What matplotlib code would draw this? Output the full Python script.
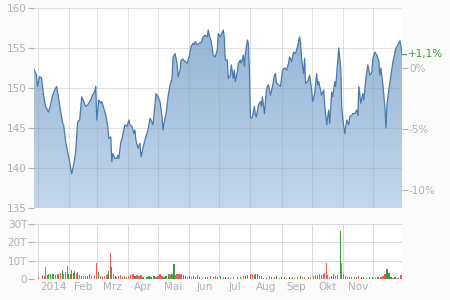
import numpy as np
import matplotlib
matplotlib.use("Agg")
import matplotlib.pyplot as plt
from matplotlib.colors import LinearSegmentedColormap
from matplotlib.patches import PathPatch

# ---- data (day offsets from 2014-01-01) ----
price_days = [-4, -1, 0, 2, 4, 6, 8, 10, 11, 13, 15, 17, 19, 20, 22, 25, 26, 28, 30, 32,
              34, 36, 38, 40, 42, 44, 46, 48, 50, 53, 55, 57, 58, 59, 61, 63, 64, 66, 68, 70,
              71, 73, 74, 75, 77, 79, 80, 81, 83, 84, 87, 89, 91, 92, 94, 96, 97, 98, 100, 102,
              103, 105, 107, 110, 112, 113, 115, 116, 118, 120, 122, 124, 125, 126, 128, 130, 132, 134, 135, 137,
              139, 140, 142, 143, 145, 147, 149, 151, 153, 155, 156, 157, 159, 161, 163, 165, 167, 169, 170, 171,
              173, 175, 177, 179, 180, 182, 185, 186, 187, 189, 190, 192, 193, 195, 196, 197, 199, 200, 202, 203,
              205, 206, 207, 209, 210, 211, 212, 213, 214, 216, 217, 218, 220, 222, 223, 224, 226, 228, 229, 230,
              232, 234, 236, 237, 238, 240, 242, 244, 246, 248, 250, 251, 253, 255, 257, 259, 261, 262, 263, 265,
              266, 267, 269, 271, 273, 274, 276, 278, 279, 280, 283, 285, 286, 288, 290, 291, 293, 294, 296, 297,
              299, 300, 302, 303, 304, 306, 308, 310, 311, 313, 314, 316, 318, 319, 320, 322, 324, 325, 327, 329,
              331, 333, 334, 336, 338, 340, 341, 342, 344, 346, 347, 348, 350, 352, 354, 356, 357, 359, 361, 362, 363]
prices = [152.5, 151.6, 150.2, 151.4, 151.3, 149.1, 147.7, 147.25, 147.0, 147.9, 149.1, 149.75, 150.2, 149.5, 147.9, 145.6, 145.4, 143.3, 142.0, 140.8,
          139.25, 140.4, 142.0, 145.8, 146.0, 148.9, 148.3, 147.7, 147.9, 148.5, 149.2, 149.5, 150.2, 146.0, 148.5, 148.1, 148.3, 147.5, 146.6, 145.2,
          143.7, 143.9, 140.8, 141.8, 141.2, 141.2, 141.6, 141.2, 143.3, 143.6, 145.4, 145.2, 146.0, 145.4, 145.2, 144.3, 144.75, 143.5, 142.5, 143.1,
          141.4, 142.5, 143.5, 144.75, 146.2, 146.0, 145.4, 146.6, 149.3, 148.9, 148.3, 146.4, 144.75, 145.6, 146.8, 148.9, 150.4, 151.2, 153.9, 154.3,
          153.1, 151.4, 152.25, 153.5, 153.6, 153.3, 153.1, 153.9, 155.2, 155.6, 155.4, 155.8, 155.4, 155.6, 155.7, 156.4, 156.6, 156.4, 157.25, 156.6,
          155.8, 154.1, 153.9, 154.75, 156.8, 156.4, 157.25, 156.4, 153.5, 153.5, 151.2, 151.6, 152.9, 151.2, 152.25, 150.8, 152.0, 153.1, 153.5, 153.1,
          154.1, 152.7, 154.3, 156.0, 155.6, 152.25, 146.4, 146.2, 146.4, 147.7, 146.6, 146.4, 147.9, 148.3, 147.7, 148.9, 146.8, 149.75, 150.2, 150.4,
          149.1, 150.2, 151.6, 151.8, 150.6, 150.4, 150.2, 152.25, 152.5, 152.25, 153.1, 153.9, 153.3, 154.5, 154.3, 155.2, 156.4, 155.6, 153.7, 151.8,
          153.7, 150.6, 150.8, 151.6, 149.75, 148.3, 149.3, 151.8, 150.4, 150.8, 149.1, 149.75, 147.9, 145.4, 147.25, 145.6, 149.5, 148.9, 150.8, 150.2,
          153.3, 155.0, 152.5, 147.5, 146.2, 144.3, 146.0, 145.4, 146.4, 146.6, 146.8, 146.8, 147.25, 146.6, 150.2, 148.1, 149.3, 148.5, 151.2, 152.9,
          151.6, 152.0, 153.7, 154.5, 154.1, 153.3, 151.6, 152.5, 150.4, 147.5, 145.0, 147.9, 149.9, 151.6, 153.3, 154.5, 155.0, 155.4, 155.9, 155.2, 154.2]

vol_days = [1, 5, 7, 8, 10, 11, 13, 15, 16, 18, 20, 21, 23, 25, 26, 28, 30, 31, 33, 34,
            36, 37, 39, 40, 42, 44, 46, 48, 50, 52, 54, 57, 59, 61, 63, 65, 67, 69, 70, 71,
            73, 74, 76, 78, 79, 81, 83, 85, 87, 89, 91, 93, 95, 97, 99, 101, 103, 105, 109, 111,
            113, 116, 118, 120, 122, 124, 126, 128, 131, 132, 134, 136, 138, 139, 141, 143, 145, 147, 149, 151,
            153, 155, 157, 159, 161, 164, 167, 169, 172, 175, 177, 179, 182, 185, 187, 190, 192, 195, 199, 202,
            205, 207, 209, 212, 214, 216, 217, 219, 221, 223, 225, 228, 231, 233, 236, 238, 241, 243, 246, 248,
            251, 254, 256, 259, 262, 264, 266, 270, 272, 275, 277, 279, 281, 283, 285, 286, 288, 289, 291, 293,
            295, 297, 299, 302, 303, 305, 307, 309, 311, 313, 316, 318, 320, 323, 325, 328, 331, 334, 337, 339,
            342, 344, 346, 347, 348, 350, 352, 354, 356, 359, 362]
vol_vals = [1.0, 2.0, 1.5, 6.5, 2.0, 2.5, 3.0, 2.5, 3.0, 2.0, 2.5, 3.0, 3.5, 5.0, 3.0, 4.0, 7.0, 3.0, 2.5, 5.0,
            3.5, 4.5, 3.0, 4.0, 2.0, 1.5, 1.5, 1.5, 1.5, 2.5, 1.5, 2.0, 8.8, 4.0, 1.5, 1.0, 1.5, 2.0, 2.5, 4.5,
            14.3, 6.5, 2.5, 1.5, 1.0, 1.5, 2.0, 1.0, 1.5, 1.0, 1.5, 2.0, 2.5, 1.5, 2.0, 1.5, 2.0, 1.0, 1.0, 1.5,
            1.0, 1.5, 1.0, 1.5, 2.5, 1.5, 1.0, 1.5, 2.5, 2.0, 3.0, 8.3, 2.0, 3.0, 2.5, 3.0, 2.0, 1.5, 1.0, 1.5,
            1.0, 1.5, 1.0, 2.0, 1.0, 0.8, 1.0, 1.0, 1.5, 1.0, 1.5, 1.0, 1.5, 1.0, 1.0, 1.0, 0.8, 1.0, 1.0, 1.0,
            1.5, 1.5, 2.0, 3.0, 2.5, 2.0, 3.0, 3.0, 1.5, 1.5, 0.8, 0.8, 1.5, 1.0, 1.0, 1.5, 0.8, 1.0, 1.0, 0.8,
            1.0, 1.0, 0.8, 1.0, 1.5, 1.0, 1.0, 1.0, 1.0, 1.5, 2.0, 2.0, 2.5, 2.0, 3.0, 3.5, 8.7, 2.0, 1.0, 1.5,
            3.0, 1.5, 2.0, 26.0, 9.0, 3.0, 1.5, 1.0, 1.0, 1.0, 1.0, 1.0, 1.5, 1.0, 1.0, 0.8, 1.0, 1.0, 0.8, 1.0,
            1.0, 1.5, 3.0, 2.5, 5.5, 3.5, 1.0, 0.8, 1.0, 0.8, 2.0]
vol_cols = ("rrrrgggggrrrrgrrrgrg" "ggrgrrrrggrrrgrgrrrg" "rgrgrrrgrgrrrgrrrggg" "ggrrrrgggrggrrrrggrg"
            "rrrrgrgrrgrggrgrgrgg" "rgrrrgggrrggrgrgrggr" "grgrgrrgrrrrrgrrrrgg" "grggrrgrgrgrrgrgrgrg"
            "rrrggggrgrr")

months_start = [0, 31, 59, 90, 120, 151, 181, 212, 243, 273, 304, 334, 365]
month_labels = ['2014', 'Feb', 'Mrz', 'Apr', 'Mai', 'Jun', 'Jul', 'Aug', 'Sep', 'Okt', 'Nov']
price_ticks = [135, 140, 145, 150, 155, 160]
pct_ticks = [0, -5, -10]
vol_ticks = [0, 10, 20, 30]
vol_tick_labels = ['0', '10T', '20T', '30T']

# ---- figure ----
GRAY = '#b0b0b0'
GRID = '#d9d9d9'
fig = plt.figure(figsize=(4.5, 3.0), dpi=100, facecolor='#fbfbfb')
ax = fig.add_axes([34/450, 1-208/300, 368/450, 200/300])
axv = fig.add_axes([34/450, 1-279/300, 368/450, 55/300])

xmin, xmax = -3.5, 363
base = prices[0]

for a in (ax, axv):
    a.set_facecolor('white')
    for s in a.spines.values():
        s.set_visible(False)
    a.set_xlim(xmin, xmax)

# gradient fill
cmap = LinearSegmentedColormap.from_list('g', ['#c3d7eb', '#93b4d6'])
grad = np.linspace(0, 1, 256).reshape(-1, 1)
im = ax.imshow(grad, extent=[xmin, xmax, 135, 158], origin='lower', aspect='auto',
               cmap=cmap, zorder=1, interpolation='bilinear')
poly = ax.fill_between(price_days, prices, 135, color='none', lw=0)
patch = PathPatch(poly.get_paths()[0], transform=ax.transData, facecolor='none', edgecolor='none')
ax.add_patch(patch)
im.set_clip_path(patch)
ax.plot(price_days, prices, color='#4a7aab', lw=0.9, zorder=4)

ax.set_ylim(135, 160)
ax.set_yticks(price_ticks)
ax.set_yticklabels([str(t) for t in price_ticks])
ax.set_xticks(months_start[:-1])
ax.tick_params(axis='x', length=0, labelbottom=False)
ax.tick_params(axis='y', length=4, width=0.8, color=GRAY, labelcolor=GRAY, labelsize=7.5, pad=1)
ax.grid(True, color='#9a9a9a', alpha=0.3, lw=0.7, zorder=3)
ax.set_axisbelow(False)
ax.axhline(135, color=GRID, lw=0.8, zorder=3)

# right percent axis
ax2 = ax.twinx()
ax2.set_ylim(135, 160)
for s in ax2.spines.values():
    s.set_visible(False)
ax2.set_yticks([base * (1 + p / 100) for p in pct_ticks])
ax2.set_yticklabels(['0%', '-5%', '-10%'])
ax2.tick_params(axis='y', length=4, width=0.8, color=GRAY, labelcolor=GRAY, labelsize=7.5, pad=1)
last = prices[-1]
chg = (last / base - 1) * 100
ax2.annotate(('%+.1f%%' % chg).replace('.', ','), xy=(1, last), xycoords=('axes fraction', 'data'),
             xytext=(4, 0), textcoords='offset points', va='center', ha='left',
             color='#3f9a3f', fontsize=7.5)
ax2.plot([1.0, 1.011], [last, last], transform=ax2.get_yaxis_transform(), color='#3f9a3f',
         lw=0.8, clip_on=False)

# volume
colmap = {'r': '#e06060', 'g': '#3e9e3e'}
axv.bar(vol_days, vol_vals, width=1.2, color=[colmap[c] for c in vol_cols],
        zorder=3, lw=0)
axv.set_ylim(0, 30)
axv.set_yticks(vol_ticks)
axv.set_yticklabels(vol_tick_labels)
axv.set_xticks(months_start[:-1])
axv.set_xticks([(months_start[i] + months_start[i + 1]) / 2 for i in range(len(month_labels))], minor=True)
axv.set_xticklabels(month_labels, minor=True)
axv.tick_params(axis='x', which='major', length=0, labelbottom=False)
axv.tick_params(axis='x', which='minor', length=0, labelcolor=GRAY, labelsize=7.5, pad=2)
axv.tick_params(axis='y', length=4, width=0.8, color=GRAY, labelcolor=GRAY, labelsize=7.5, pad=1)
axv.grid(True, which='major', color=GRID, lw=0.7, zorder=0)
axv.axhline(0, color=GRID, lw=0.8, zorder=2)

fig.savefig('out.png', dpi=100, facecolor=fig.get_facecolor())
